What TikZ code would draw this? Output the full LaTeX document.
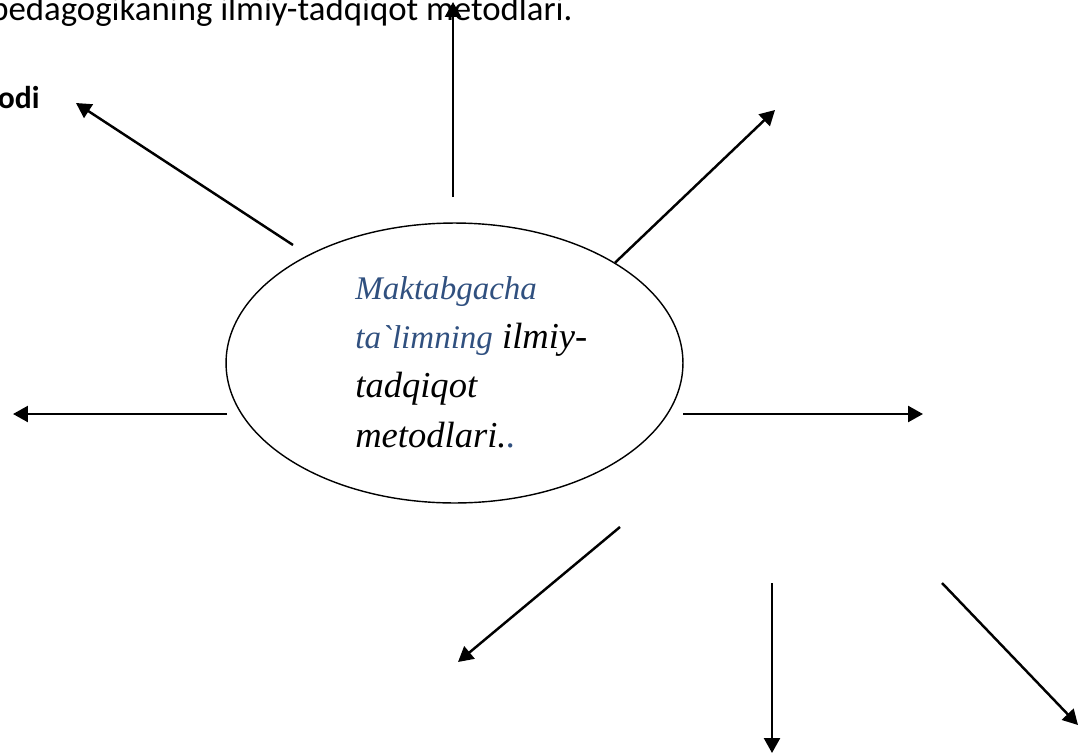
\documentclass[tikz,border=0pt]{standalone}
\usepackage{fontspec}
\newfontfamily\serifit{Liberation Serif}
\newfontfamily\calibri{Carlito}
\usetikzlibrary{shapes.geometric, arrows.meta}
\definecolor{slateblue}{HTML}{30507F}

\begin{document}
\begin{tikzpicture}[x=0.02cm, y=-0.02cm, inner sep=0pt, arr/.style={-{Triangle[length=0.3cm, width=0.32cm]}, line width=1.4pt}]
	\useasboundingbox (0,0) rectangle (1078,754);

	\node[anchor=base east, font=\calibri\fontsize{19.8}{24}\selectfont] (title) at (573,20) {pedagogikaning ilmiy-tadqiqot metodlari.};
	\node[anchor=base east, font=\calibri\bfseries\fontsize{18}{21}\selectfont] (odi) at (40,108) {odi};

	\node[ellipse, draw, line width=0.8pt, minimum width=9.14cm, minimum height=5.6cm] (m) at (454.5,363) {};
	% base anchor sits on the last line
	\node[anchor=base west, align=left, font=\serifit\itshape\fontsize{20.8}{27.9}\selectfont] (mt) at (355,447)
		{{\color{slateblue}\fontsize{18.8}{27.9}\selectfont Maktabgacha}\\
		 {\color{slateblue}\fontsize{18.8}{27.9}\selectfont ta`limning} ilmiy-\\
		 tadqiqot\\
		 metodlari.{\color{slateblue}.}};

	\coordinate (upS) at (453,197);   \coordinate (upT) at (453,2);
	\coordinate (ulS) at (293,245);   \coordinate (ulT) at (76,103);
	\coordinate (urT) at (775,110);
	\coordinate (lS) at (227,414);    \coordinate (lT) at (13,414);
	\coordinate (rS) at (683,414);    \coordinate (rT) at (923,414);
	\coordinate (llS) at (620,527);   \coordinate (llT) at (458,662);
	\coordinate (dS) at (772,583);    \coordinate (dT) at (772,753);
	\coordinate (lrS) at (942,583);   \coordinate (lrT) at (1078,725);

	\draw[arr] (upS) to (upT);
	\draw[arr] (ulS) to (ulT);
	\draw[arr] (m.32.5) to (urT);
	\draw[arr] (lS) to (lT);
	\draw[arr] (rS) to (rT);
	\draw[arr] (llS) to (llT);
	\draw[arr] (dS) to (dT);
	\draw[arr] (lrS) to (lrT);
\end{tikzpicture}
\end{document}
